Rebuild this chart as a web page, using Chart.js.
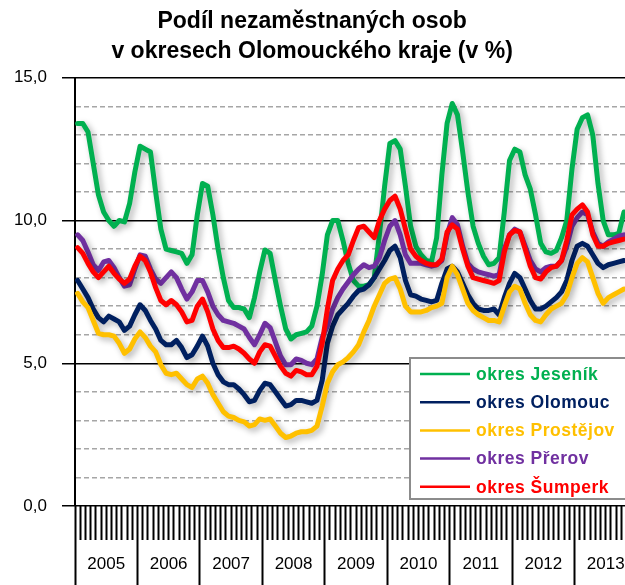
<!DOCTYPE html>
<html>
<head>
<meta charset="utf-8">
<script src="https://cdn.jsdelivr.net/npm/chart.js@4.4.0/dist/chart.umd.min.js"></script>
<style>
  html, body { margin: 0; padding: 0; background: #fff; overflow: hidden; }
</style>
</head>
<body>
<canvas id="myChart" width="640" height="585"></canvas>
<script>
const years = ['2005', '2006', '2007', '2008', '2009', '2010', '2011', '2012', '2013'];

const seriesNames = ['okres Jeseník', 'okres Olomouc', 'okres Prostějov', 'okres Přerov', 'okres Šumperk'];

// Jan 2005 .. Oct 2013, monthly
const jesenik = [
	13.4, 13.4, 13.1, 12.0, 10.9, 10.3, 10.0, 9.8, 10.0, 9.95, 10.6, 11.7,
	12.6, 12.5, 12.4, 11.0, 9.7, 9.0, 8.95, 8.9, 8.85, 8.5, 8.8, 10.2,
	11.3, 11.2, 10.2, 9.0, 8.0, 7.2, 6.95, 6.95, 6.9, 6.6, 7.3, 8.2,
	8.97, 8.85, 7.9, 7.0, 6.2, 5.85, 6.0, 6.05, 6.1, 6.3, 7.0, 8.1,
	9.5, 10.0, 10.0, 9.3, 8.5, 7.9, 7.7, 7.7, 7.75, 8.0, 9.5, 11.2,
	12.7, 12.8, 12.5, 11.2, 9.8, 9.1, 8.8, 8.6, 8.55, 9.4, 11.6, 13.4,
	14.1, 13.7, 12.4, 11.0, 9.8, 9.2, 8.75, 8.45, 8.5, 8.7, 10.3, 12.1,
	12.5, 12.4, 11.6, 11.1, 10.2, 9.2, 8.9, 8.85, 8.95, 9.4, 10.0, 11.8,
	13.2, 13.6, 13.7, 13.0, 11.3, 10.0, 9.5, 9.5, 9.55, 10.3
];
const olomouc = [
	7.9, 7.6, 7.3, 6.9, 6.6, 6.45, 6.65, 6.55, 6.45, 6.15, 6.3, 6.7,
	7.05, 6.85, 6.5, 6.2, 5.8, 5.65, 5.65, 5.8, 5.55, 5.2, 5.3, 5.6,
	5.95, 5.6, 5.0, 4.6, 4.35, 4.25, 4.25, 4.1, 3.9, 3.65, 3.7, 4.05,
	4.3, 4.25, 4.0, 3.75, 3.5, 3.55, 3.7, 3.7, 3.65, 3.6, 3.7, 4.4,
	5.7, 6.3, 6.7, 6.9, 7.1, 7.35, 7.55, 7.6, 7.75, 8.0, 8.3, 8.6,
	8.95, 9.1, 8.7, 7.9, 7.4, 7.35, 7.25, 7.2, 7.15, 7.2, 7.8, 8.3,
	8.4, 8.2, 7.8, 7.4, 7.1, 6.9, 6.85, 6.85, 6.9, 6.7, 7.3, 7.8,
	8.15, 8.0, 7.6, 7.2, 6.9, 6.9, 7.0, 7.15, 7.3, 7.5, 7.9, 8.6,
	9.1, 9.2, 9.1, 8.8, 8.5, 8.35, 8.45, 8.5, 8.55, 8.6
];
const prostejov = [
	7.45, 7.15, 6.95, 6.5, 6.05, 6.0, 6.0, 5.95, 5.7, 5.35, 5.5, 5.85,
	6.1, 5.9, 5.6, 5.4, 4.95, 4.65, 4.6, 4.65, 4.45, 4.25, 4.15, 4.45,
	4.55, 4.3, 3.9, 3.6, 3.3, 3.15, 3.1, 3.0, 2.95, 2.8, 2.85, 3.05,
	3.0, 3.05, 2.8, 2.55, 2.4, 2.45, 2.55, 2.6, 2.6, 2.65, 2.8, 3.5,
	4.3, 4.7, 4.95, 5.05, 5.2, 5.4, 5.65, 6.1, 6.5, 7.0, 7.4, 7.8,
	7.95, 8.0, 7.6, 7.0, 6.8, 6.8, 6.8, 6.85, 6.95, 7.0, 7.1, 8.0,
	8.4, 8.1, 7.6, 7.1, 6.85, 6.7, 6.6, 6.5, 6.5, 6.45, 7.0, 7.5,
	7.7, 7.6, 7.1, 6.7, 6.5, 6.45, 6.7, 6.9, 7.0, 7.1, 7.4, 8.0,
	8.5, 8.7, 8.55, 8.0, 7.45, 7.1, 7.3, 7.4, 7.5, 7.6
];
const prerov = [
	9.5, 9.3, 8.9, 8.45, 8.25, 8.55, 8.6, 8.35, 8.0, 7.7, 7.75, 8.3,
	8.8, 8.75, 8.3, 7.95, 7.8, 8.0, 8.2, 8.0, 7.6, 7.25, 7.5, 7.9,
	7.9, 7.5, 7.0, 6.7, 6.5, 6.45, 6.4, 6.3, 6.2, 5.9, 5.65, 6.0,
	6.4, 6.25, 5.75, 5.25, 4.95, 4.95, 5.15, 5.1, 5.0, 4.95, 5.15, 5.9,
	6.3, 6.9, 7.3, 7.6, 7.85, 8.1, 8.3, 8.45, 8.35, 8.4, 8.7, 9.3,
	9.8, 10.0, 9.5, 8.8, 8.5, 8.5, 8.5, 8.45, 8.4, 8.45, 8.6, 9.5,
	10.1, 9.85, 9.1, 8.5, 8.3, 8.2, 8.15, 8.1, 8.05, 8.1, 9.0, 9.5,
	9.7, 9.6, 9.1, 8.6, 8.3, 8.2, 8.35, 8.4, 8.4, 8.6, 9.1, 9.8,
	10.1, 10.3, 10.2, 9.6, 9.2, 9.1, 9.25, 9.35, 9.45, 9.5
];
const sumperk = [
	9.05, 8.85, 8.5, 8.2, 8.0, 8.2, 8.4, 8.15, 7.95, 7.8, 7.95, 8.4,
	8.75, 8.6, 8.2, 7.65, 7.2, 7.05, 7.2, 7.05, 6.8, 6.45, 6.5, 7.0,
	7.25, 6.8, 6.2, 5.8, 5.55, 5.55, 5.6, 5.5, 5.35, 5.15, 5.0, 5.4,
	5.65, 5.6, 5.25, 4.9, 4.65, 4.55, 4.75, 4.7, 4.6, 4.6, 4.9, 5.7,
	6.9, 7.9, 8.3, 8.6, 8.8, 9.3, 9.75, 9.8, 9.6, 9.4, 10.0, 10.4,
	10.7, 10.85, 10.4, 9.7, 9.0, 8.75, 8.6, 8.5, 8.45, 8.45, 8.65, 9.6,
	9.85, 9.7, 9.0, 8.4, 8.0, 7.95, 7.9, 7.85, 7.8, 7.9, 8.9, 9.5,
	9.65, 9.6, 9.0, 8.4, 8.0, 7.95, 8.2, 8.35, 8.4, 8.6, 9.3, 10.2,
	10.4, 10.55, 10.3, 9.5, 9.1, 9.1, 9.2, 9.25, 9.3, 9.35
];

const colors = ['#00B050', '#002060', '#FFC000', '#7030A0', '#FF0000'];

// month categories, 12 per year
const months = [];
years.forEach(y => {
	for (let m = 1; m <= 12; m++) months.push(y + '-' + m);
});

const FONT = "'Liberation Sans', Arial, sans-serif";

// soft drop shadow under each line, like the excel original
const shadowPlugin = {
	id: 'lineShadow',
	beforeDatasetDraw(chart) {
		const ctx = chart.ctx;
		ctx.save();
		ctx.shadowColor = 'rgba(0,0,0,0.30)';
		ctx.shadowBlur = 6;
		ctx.shadowOffsetX = 3;
		ctx.shadowOffsetY = 3;
	},
	afterDatasetDraw(chart) {
		chart.ctx.restore();
	}
};

// boxed legend sitting inside the plot, bottom right
const boxLegend = {
	id: 'boxLegend',
	afterDatasetsDraw(chart) {
		const ctx = chart.ctx;
		const x = 410, y = 358, w = 224, h = 141;
		ctx.save();
		ctx.fillStyle = '#fff';
		ctx.fillRect(x, y, w, h);
		ctx.strokeStyle = '#8c8c8c';
		ctx.lineWidth = 2;
		ctx.strokeRect(x, y, w, h);
		ctx.font = 'bold 17.5px ' + FONT;
		ctx.letterSpacing = '0.5px';
		ctx.textBaseline = 'middle';
		chart.data.datasets.forEach((ds, i) => {
			const cy = y + 16 + i * 28.2;
			ctx.strokeStyle = ds.borderColor;
			ctx.lineWidth = 2.5;
			ctx.beginPath();
			ctx.moveTo(420, cy);
			ctx.lineTo(470, cy);
			ctx.stroke();
			ctx.fillStyle = ds.borderColor;
			ctx.fillText(ds.label, 476, cy + 1);
		});
		ctx.letterSpacing = '0px';
		ctx.restore();
	}
};

function makeChart(id) {
	const values = [jesenik, olomouc, prostejov, prerov, sumperk];
	const datasets = values.map((v, i) => ({
		label: seriesNames[i],
		data: v,
		borderColor: colors[i],
		backgroundColor: colors[i],
		borderWidth: 5,
		pointRadius: 0,
		tension: 0,
		borderJoinStyle: 'round',
		borderCapStyle: 'round',
		xAxisID: 'x',
		yAxisID: 'y',
		order: values.length - 1 - i
	}));

	const config = {
		type: 'line',
		data: { labels: months, datasets: datasets },
		options: {
			responsive: false,
			animation: false,
			devicePixelRatio: 1,
			layout: { padding: { left: 0, right: 3, top: 0, bottom: 0 } },
			plugins: {
				legend: { display: false },
				tooltip: { enabled: false },
				title: {
					display: true,
					// trailing spaces pull the centred title a little to the left
					text: ['Podíl nezaměstnaných osob  ', 'v okresech Olomouckého kraje (v %)  '],
					color: '#000',
					font: { family: FONT, size: 23, weight: 'bold', lineHeight: 1.3 },
					padding: { top: 7, bottom: 11 }
				}
			},
			scales: {
				x: {
					type: 'category',
					position: 'bottom',
					weight: 0,
					offset: true,
					grid: {
						offset: true,
						drawOnChartArea: false,
						drawTicks: true,
						tickLength: 34,
						tickWidth: 2,
						tickColor: '#000'
					},
					border: { display: false },
					ticks: { display: false, autoSkip: false },
					afterFit(s) { s.height = 34; }
				},
				x2: {
					type: 'category',
					labels: years,
					position: 'bottom',
					weight: 1,
					offset: true,
					grid: {
						offset: true,
						drawOnChartArea: false,
						drawTicks: true,
						tickLength: 45,
						tickWidth: 2,
						tickColor: '#000'
					},
					border: { display: false },
					ticks: {
						autoSkip: false,
						maxRotation: 0,
						padding: -31,
						color: '#000',
						font: { family: FONT, size: 17 }
					},
					afterFit(s) { s.height = 45; }
				},
				y: {
					min: 0,
					max: 15,
					ticks: {
						stepSize: 1,
						padding: 15,
						color: '#000',
						font: { family: FONT, size: 17 },
						callback: v => (v % 5 === 0 ? v.toFixed(1).replace('.', ',') : '')
					},
					grid: {
						color: c => (c.tick && c.tick.value % 5 === 0 ? '#000' : '#A6A6A6'),
						lineWidth: 1.5,
						tickLength: 13,
						tickWidth: 1.5,
						tickColor: c => (c.tick && c.tick.value % 5 === 0 ? '#000' : 'rgba(0,0,0,0)')
					},
					border: {
						display: true,
						color: '#000',
						width: 2,
						dash: c => (c.tick && c.tick.value % 5 !== 0 ? [5, 3] : [])
					},
					afterFit(s) { s.width = 75; }
				}
			}
		},
		plugins: [shadowPlugin, boxLegend]
	};

	const ctx = document.getElementById(id).getContext('2d');
	return new Chart(ctx, config);
}

makeChart('myChart');
</script>
</body>
</html>
